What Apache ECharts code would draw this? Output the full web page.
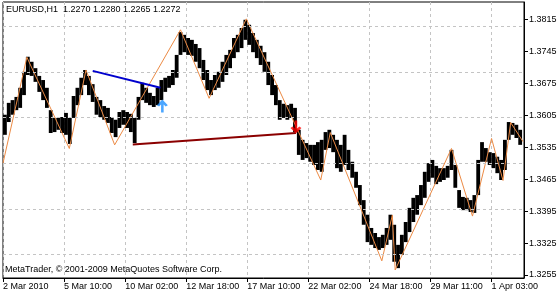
<!DOCTYPE html>
<html>
<head>
<meta charset="utf-8">
<script src="https://cdn.jsdelivr.net/npm/echarts@6/dist/echarts.min.js"></script>
<style>
html,body{margin:0;padding:0;background:#fff;}
#c{width:560px;height:294px;}
</style>
</head>
<body>
<div id="c"></div>
<script>
// ---- data (EURUSD H1, each sample = 4 hourly bars) ----
const BARS_PER_SAMPLE = 4;
const highs = [1.3606,1.3632,1.3638,1.3645,1.3665,1.3700,1.3733,1.3722,1.3708,1.3691,
  1.3682,1.3665,1.3616,1.3599,1.3599,1.3601,1.3610,1.3599,1.3647,1.3665,
  1.3687,1.3704,1.3691,1.3673,1.3645,1.3638,1.3625,1.3621,1.3601,1.3595,
  1.3612,1.3616,1.3612,1.3608,1.3599,1.3645,1.3676,1.3665,1.3654,1.3647,
  1.3665,1.3682,1.3687,1.3691,1.3704,1.3737,1.3787,1.3781,1.3774,1.3770,
  1.3761,1.3752,1.3726,1.3704,1.3682,1.3693,1.3700,1.3722,1.3737,1.3748,
  1.3774,1.3781,1.3796,1.3814,1.3803,1.3785,1.3770,1.3757,1.3743,1.3722,
  1.3693,1.3671,1.3638,1.3630,1.3627,1.3630,1.3621,1.3573,1.3551,1.3544,
  1.3540,1.3540,1.3546,1.3551,1.3568,1.3573,1.3562,1.3551,1.3540,1.3562,
  1.3529,1.3503,1.3481,1.3452,1.3419,1.3387,1.3358,1.3347,1.3338,1.3343,
  1.3358,1.3387,1.3365,1.3321,1.3343,1.3371,1.3402,1.3424,1.3430,1.3452,
  1.3481,1.3500,1.3507,1.3494,1.3489,1.3489,1.3494,1.3529,1.3496,1.3441,
  1.3426,1.3424,1.3419,1.3430,1.3507,1.3546,1.3533,1.3524,1.3522,1.3514,
  1.3507,1.3551,1.3590,1.3588,1.3584,1.3573];
const lows = [1.3562,1.3590,1.3606,1.3616,1.3621,1.3649,1.3693,1.3691,1.3678,1.3656,
  1.3638,1.3621,1.3566,1.3568,1.3573,1.3566,1.3562,1.3542,1.3599,1.3627,
  1.3649,1.3671,1.3649,1.3634,1.3606,1.3601,1.3595,1.3588,1.3566,1.3557,
  1.3577,1.3584,1.3577,1.3568,1.3544,1.3595,1.3638,1.3632,1.3627,1.3623,
  1.3627,1.3638,1.3656,1.3665,1.3671,1.3687,1.3737,1.3743,1.3737,1.3735,
  1.3722,1.3708,1.3682,1.3660,1.3649,1.3660,1.3665,1.3678,1.3693,1.3708,
  1.3730,1.3743,1.3752,1.3770,1.3759,1.3743,1.3730,1.3715,1.3700,1.3671,
  1.3649,1.3627,1.3595,1.3599,1.3595,1.3599,1.3568,1.3518,1.3507,1.3511,
  1.3503,1.3496,1.3485,1.3481,1.3529,1.3533,1.3524,1.3489,1.3481,1.3496,
  1.3485,1.3468,1.3446,1.3408,1.3365,1.3327,1.3321,1.3314,1.3310,1.3314,
  1.3321,1.3332,1.3284,1.3270,1.3299,1.3327,1.3349,1.3371,1.3387,1.3408,
  1.3424,1.3459,1.3468,1.3454,1.3459,1.3463,1.3468,1.3485,1.3446,1.3402,
  1.3397,1.3397,1.3393,1.3391,1.3430,1.3503,1.3503,1.3496,1.3489,1.3478,
  1.3463,1.3485,1.3551,1.3562,1.3555,1.3540];

const zigzagBars   = [0,25,69.5,87,117,186,216,255,333,343,397,408,411,470,492,512,524,532,545];
const zigzagPrices = [1.3500,1.3732,1.3532,1.3704,1.3540,1.3792,1.3642,1.3816,1.3463,1.3567,
  1.3286,1.3386,1.3266,1.3532,1.3384,1.3554,1.3462,1.3589,1.3547];

const blueLineBars = [94,165];
const blueLinePrices = [1.3702,1.3665];
const redLineBars = [136,307];
const redLinePrices = [1.3541,1.3566];

const buySignalBars = [167];
const buySignalPrices = [1.3625];
const sellSignalBars = [307];
const sellSignalPrices = [1.3579];

const xTickBars = [0,64,128,192,256,320,384,448,512];
const xTickLabels = ['2 Mar 2010','5 Mar 10:00','10 Mar 02:00','12 Mar 18:00','17 Mar 10:00',
  '22 Mar 02:00','24 Mar 18:00','29 Mar 11:00','1 Apr 03:00'];
const yTicks = [1.3255,1.3325,1.3395,1.3465,1.3535,1.3605,1.3675,1.3745,1.3815];

const titleText = 'EURUSD,H1  1.2270 1.2280 1.2265 1.2272';
const copyrightText = 'MetaTrader, \u00A9 2001-2009 MetaQuotes Software Corp.';

// ---- build ----
const FONT = 'Liberation Sans';
const priceData = lows.map((lo, i) => [i * BARS_PER_SAMPLE + BARS_PER_SAMPLE / 2, lo, highs[i]]);
const pairs = (a, b) => a.map((v, i) => [v, b[i]]);

const upArrow = 'path://M6,0 L12,6 L9.6,7.6 L7.4,5.4 L7.4,14 L4.6,14 L4.6,5.4 L2.4,7.6 L0,6 Z';
const downArrow = 'path://M6,14 L12,8 L9.6,6.4 L7.4,8.6 L7.4,0 L4.6,0 L4.6,8.6 L2.4,6.4 L0,8 Z';

const chart = echarts.init(document.getElementById('c'), null, {renderer: 'canvas'});
chart.setOption({
  animation: false,
  backgroundColor: '#fff',
  textStyle: {fontFamily: FONT},
  grid: {left: 3, right: 36, top: 2, bottom: 16, show: true, borderColor: '#000', borderWidth: 1, backgroundColor: '#fff'},
  xAxis: {
    type: 'value', min: 0, max: 546, interval: 32,
    axisLine: {show: true, onZero: false, lineStyle: {color: '#000', width: 1}},
    axisTick: {show: true, customValues: xTickBars, length: 4, lineStyle: {color: '#000'}},
    axisLabel: {
      show: true, customValues: xTickBars, align: 'left', margin: 4,
      fontSize: 9, color: '#000', fontFamily: FONT,
      formatter: v => { const k = xTickBars.indexOf(Math.round(v)); return k >= 0 ? xTickLabels[k] : ''; }
    },
    splitLine: {show: true, lineStyle: {color: '#c4c4c4', type: [3, 3], width: 1}}
  },
  yAxis: {
    type: 'value', position: 'right', min: 1.32484, max: 1.38529, scale: true,
    axisLine: {show: true, onZero: false, lineStyle: {color: '#000', width: 1}},
    axisTick: {show: true, customValues: yTicks, length: 4, lineStyle: {color: '#000'}},
    axisLabel: {show: true, customValues: yTicks, margin: 5, fontSize: 9, color: '#000', fontFamily: FONT,
      formatter: v => v.toFixed(4)},
    splitLine: {show: false}
  },
  graphic: [
    {type: 'text', left: 6, top: 5, z: 100, style: {text: titleText, fontSize: 9, fontFamily: FONT, fill: '#000'}},
    {type: 'text', left: 5, top: 265, z: 100, style: {text: copyrightText, fontSize: 9, fontFamily: FONT, fill: '#000'}}
  ],
  series: [
    {
      type: 'line', data: [], silent: true, z: 1,
      markLine: {
        silent: true, symbol: 'none', label: {show: false},
        lineStyle: {color: '#c4c4c4', type: [3, 3], width: 1},
        data: yTicks.map(v => ({yAxis: v}))
      }
    },
    {
      type: 'custom', z: 3, silent: true,
      data: priceData,
      renderItem: (params, api) => {
        const x = api.value(0), lo = api.value(1), hi = api.value(2);
        const a = api.coord([x - BARS_PER_SAMPLE / 2, hi]);
        const b = api.coord([x + BARS_PER_SAMPLE / 2, lo]);
        return {type: 'rect', shape: {x: a[0], y: a[1], width: b[0] - a[0], height: b[1] - a[1]}, style: {fill: '#000'}};
      }
    },
    {type: 'line', z: 4, data: pairs(zigzagBars, zigzagPrices), symbol: 'none', lineStyle: {color: '#EC8A44', width: 1}},
    {type: 'line', z: 5, data: pairs(blueLineBars, blueLinePrices), symbol: 'none', lineStyle: {color: '#0000CD', width: 2}},
    {type: 'line', z: 5, data: pairs(redLineBars, redLinePrices), symbol: 'none', lineStyle: {color: '#8B0000', width: 2}},
    {type: 'scatter', z: 6, data: pairs(buySignalBars, buySignalPrices), symbol: upArrow, symbolSize: [11, 13], itemStyle: {color: '#1E90FF'}},
    {type: 'scatter', z: 6, data: pairs(sellSignalBars, sellSignalPrices), symbol: downArrow, symbolSize: [11, 13], itemStyle: {color: '#FF0000'}}
  ]
});
</script>
</body>
</html>
